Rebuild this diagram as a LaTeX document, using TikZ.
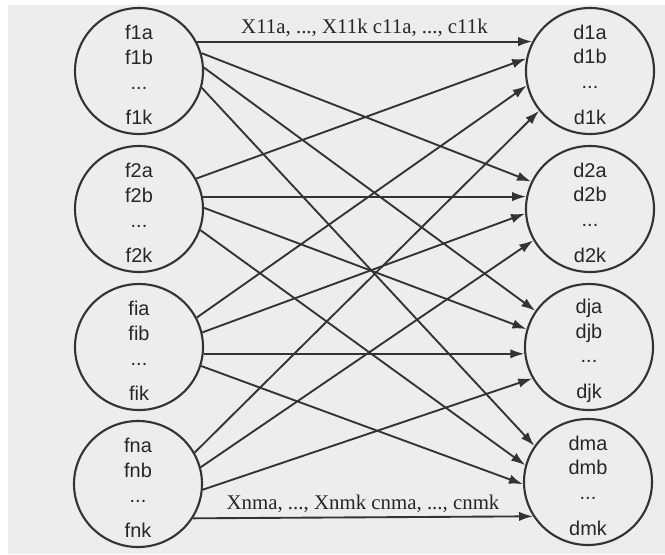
\documentclass[tikz,border=0pt]{standalone}
\usepackage{fontspec}
\setmainfont{Liberation Serif}
\setsansfont{Liberation Sans}
\usetikzlibrary{shapes.geometric,arrows.meta}

\newcommand{\toprow}{\rule{0pt}{18.5pt}}

\begin{document}
\begin{tikzpicture}[x=0.03cm,y=-0.03cm,
  set/.style={draw=black!80,line width=1.8pt,ellipse,minimum width=3.84cm,minimum height=3.78cm,inner sep=0pt},
  txt/.style={inner sep=0pt,align=center,text=black!85,font=\sffamily\fontsize{17}{21.3}\selectfont},
  link/.style={draw=black!80,line width=1.6pt,-{Latex[length=12pt,width=8pt]}},
  lab/.style={font=\fontsize{17.8}{20}\selectfont,text=black!85,inner sep=2pt}]
\useasboundingbox (0,0) rectangle (665,554);
\fill[black!7] (8,5) rectangle (665,554);
% fuentes
\node[set,label={[txt]center:\toprow f1a\\f1b\\...\\[9pt]f1k}] (f1) at (139,71) {};
\node[set,label={[txt]center:\toprow f2a\\f2b\\...\\[9pt]f2k}] (f2) at (139,209) {};
\node[set,label={[txt]center:\toprow fia\\fib\\...\\[9pt]fik}] (fi) at (139,347) {};
\node[set,label={[txt]center:\toprow fna\\fnb\\...\\[9pt]fnk}] (fn) at (138,484) {};
% destinos
\node[set,label={[txt]center:\toprow d1a\\d1b\\...\\[9pt]d1k}] (d1) at (590,71) {};
\node[set,label={[txt]center:\toprow d2a\\d2b\\...\\[9pt]d2k}] (d2) at (590,209) {};
\node[set,label={[txt]center:\toprow dja\\djb\\...\\[9pt]djk}] (dj) at (589,347) {};
\node[set,label={[txt]center:\toprow dma\\dmb\\...\\[9pt]dmk}] (dm) at (588,482) {};
% enlaces
\draw[link] (f1.27) -- node[lab,above=1.5pt] {X11a, ..., X11k c11a, ..., c11k} (d1.153);
\draw[link] (fn.328) -- node[lab,above=1.5pt] {Xnma, ..., Xnmk cnma, ..., cnmk} (dm.212);
\foreach \s/\a/\t/\b in {f1/16/d2/155, f1/3/dj/146, f1/345/dm/146,
    f2/28/d1/169, f2/11/d2/169, f2/1/dj/164, f2/341/dm/165,
    fi/27/d1/193, fi/13/d2/184, fi/354/dj/186, fi/343/dm/182,
    fn/29/d1/218, fn/15/d2/209, fn/355/dj/209}
  \draw[link] (\s.\a) -- (\t.\b);
\end{tikzpicture}
\end{document}
